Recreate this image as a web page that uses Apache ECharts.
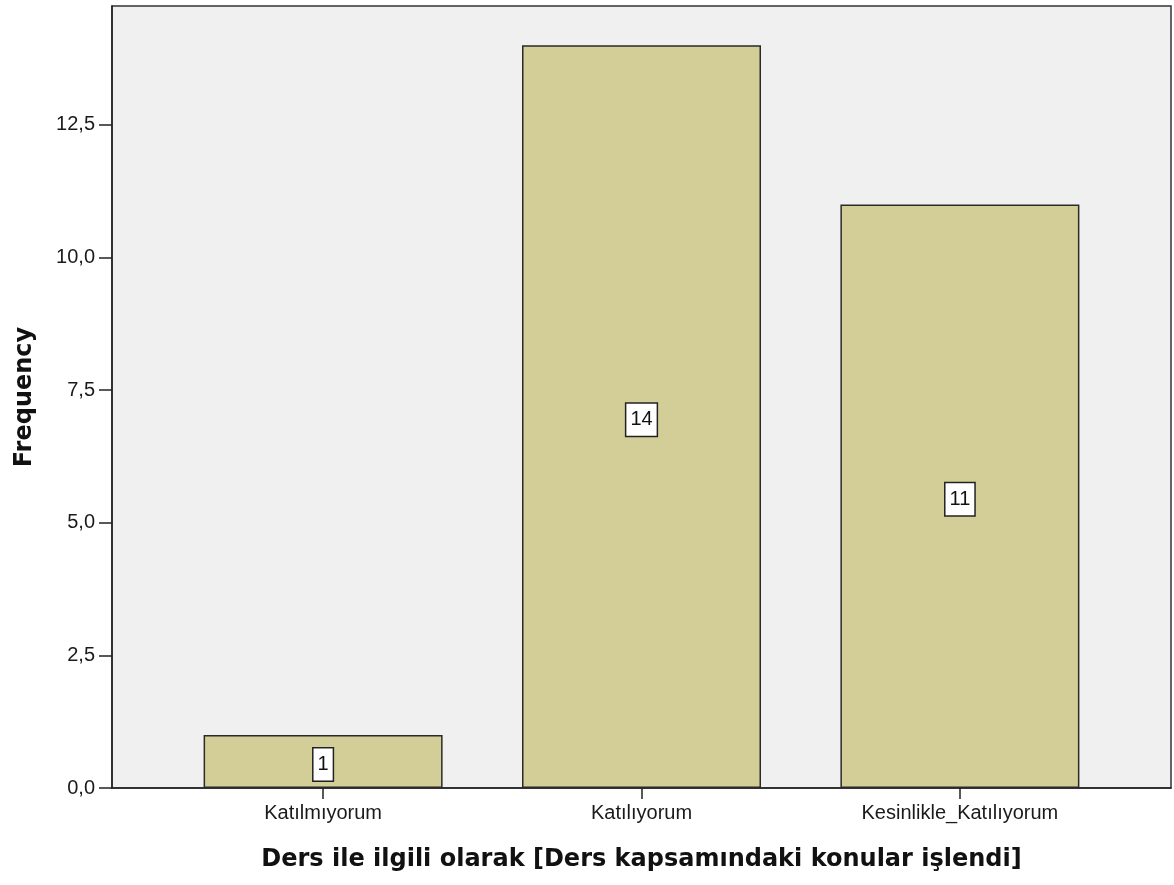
<!DOCTYPE html>
<html>
<head>
<meta charset="utf-8">
<script src="https://cdn.jsdelivr.net/npm/echarts@6/dist/echarts.min.js"></script>
<style>html,body{margin:0;padding:0;background:#fff;}#c{width:1174px;height:885px;}</style>
</head>
<body>
<div id="c"></div>
<script>
const categories = ["Katılmıyorum", "Katılıyorum", "Kesinlikle_Katılıyorum"];
const frequencies = [1, 14, 11];
const yTicks = [0, 2.5, 5, 7.5, 10, 12.5];
const xTitle = "Ders ile ilgili olarak [Ders kapsamındaki konular işlendi]";
const yTitle = "Frequency";

const positions = categories.map((c, i) => i + 1);
const chart = echarts.init(document.getElementById('c'), null, {renderer: 'canvas'});
chart.setOption({
  animation: false,
  backgroundColor: '#ffffff',
  grid: {left: 112, right: 3, top: 6, bottom: 97, show: true, backgroundColor: '#f0f0f0', borderColor: '#333', borderWidth: 1.5},
  xAxis: {
    type: 'value', min: 0.337, max: 3.663,
    name: xTitle, nameLocation: 'middle', nameGap: 60,
    nameTextStyle: {fontFamily: 'DejaVu Sans', fontWeight: 'bold', fontSize: 24, color: '#111'},
    axisLine: {show: true, lineStyle: {color: '#222', width: 1.5}},
    axisTick: {show: true, customValues: positions, length: 11, lineStyle: {color: '#222', width: 1.5}},
    axisLabel: {customValues: positions, formatter: v => categories[Math.round(v) - 1] || '', fontFamily: 'Liberation Sans, Arial', fontSize: 20, color: '#1a1a1a', margin: 15},
    splitLine: {show: false}
  },
  yAxis: {
    type: 'value', min: 0, max: 14.74,
    name: yTitle, nameLocation: 'middle', nameGap: 75, nameRotate: 90,
    nameTextStyle: {fontFamily: 'DejaVu Sans', fontWeight: 'bold', fontSize: 24, color: '#111'},
    axisLine: {show: true, lineStyle: {color: '#222', width: 1.5}},
    axisTick: {show: true, customValues: yTicks, length: 13, lineStyle: {color: '#222', width: 1.5}},
    axisLabel: {customValues: yTicks, formatter: v => v.toFixed(1).replace('.', ','), fontFamily: 'Liberation Sans, Arial', fontSize: 20, color: '#1a1a1a', margin: 17},
    splitLine: {show: false}
  },
  series: [{
    type: 'bar',
    data: positions.map((p, i) => [p, frequencies[i]]),
    barWidth: 239,
    itemStyle: {color: '#d3ce97', borderColor: '#2a2a2a', borderWidth: 1.5},
    label: {
      show: true, position: 'inside', offset: [0, 3], formatter: p => String(p.value[1]),
      fontFamily: 'Liberation Sans, Arial', fontSize: 20, color: '#111',
      backgroundColor: '#ffffff', borderColor: '#222', borderWidth: 1.5,
      padding: [7, 4, 5, 4]
    }
  }]
});
</script>
</body>
</html>
